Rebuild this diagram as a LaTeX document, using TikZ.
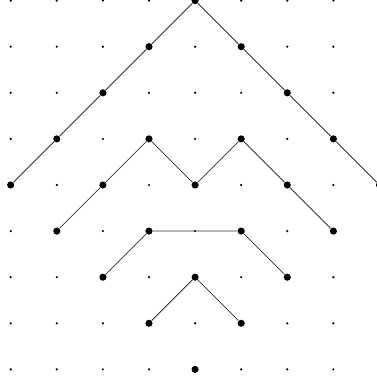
\documentclass[tikz,border=0pt]{standalone}
\tikzset{
  bigdot/.style={circle, fill=black, inner sep=0pt, minimum size=4.4pt},
  pathline/.style={draw=black!80, line width=0.5pt}
}
\begin{document}
\begin{tikzpicture}[x=1cm, y=-1cm]
\useasboundingbox (-0.232,-0.013) rectangle (7.946,8.252);
% lattice points
\foreach \i in {0,...,8}
  \foreach \j in {0,...,8}
    \fill (\i,\j) circle (0.75pt);
% outer path
\node[bigdot] (a0) at (0,4) {};
\node[bigdot] (a1) at (1,3) {};
\node[bigdot] (a2) at (2,2) {};
\node[bigdot] (a3) at (3,1) {};
\node[bigdot] (a4) at (4,0) {};
\node[bigdot] (a5) at (5,1) {};
\node[bigdot] (a6) at (6,2) {};
\node[bigdot] (a7) at (7,3) {};
\node[bigdot] (a8) at (8,4) {};
\draw[pathline] (a0) -- (a1) -- (a2) -- (a3) -- (a4) -- (a5) -- (a6) -- (a7) -- (a8);
% second path
\node[bigdot] (b0) at (1,5) {};
\node[bigdot] (b1) at (2,4) {};
\node[bigdot] (b2) at (3,3) {};
\node[bigdot] (b3) at (4,4) {};
\node[bigdot] (b4) at (5,3) {};
\node[bigdot] (b5) at (6,4) {};
\node[bigdot] (b6) at (7,5) {};
\draw[pathline] (b0) -- (b1) -- (b2) -- (b3) -- (b4) -- (b5) -- (b6);
% third path
\node[bigdot] (c0) at (2,6) {};
\node[bigdot] (c1) at (3,5) {};
\node[bigdot] (c2) at (5,5) {};
\node[bigdot] (c3) at (6,6) {};
\draw[pathline] (c0) -- (c1) -- (c2) -- (c3);
% fourth path
\node[bigdot] (d0) at (3,7) {};
\node[bigdot] (d1) at (4,6) {};
\node[bigdot] (d2) at (5,7) {};
\draw[pathline] (d0) -- (d1) -- (d2);
% empty path
\node[bigdot] (e0) at (4,8) {};
\end{tikzpicture}
\end{document}
